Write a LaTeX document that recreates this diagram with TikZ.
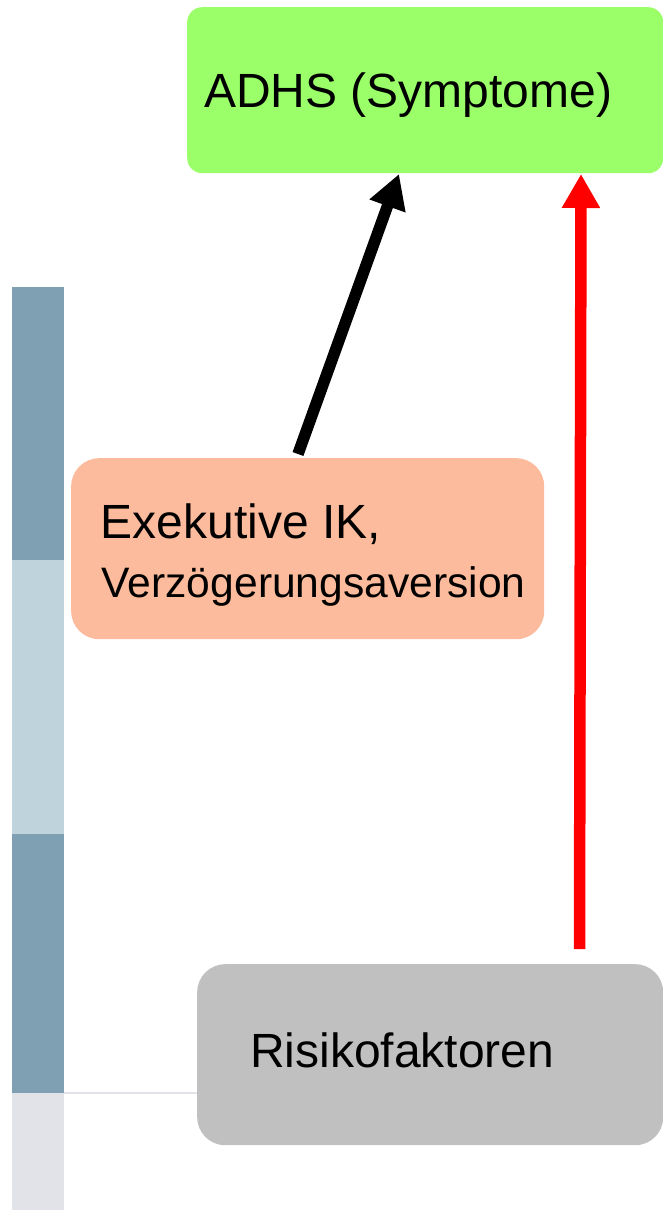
\documentclass[tikz,border=0pt]{standalone}
\usepackage{fontspec}
\setmainfont{Liberation Sans}
\usetikzlibrary{arrows.meta}

\definecolor{adhsgreen}{HTML}{9BFF69}
\definecolor{exekorange}{HTML}{FBBB9C}
\definecolor{riskgray}{HTML}{C0C0C0}
\definecolor{bardark}{HTML}{7F9FB2}
\definecolor{barlight}{HTML}{BFD3DC}
\definecolor{barpale}{HTML}{E2E3E9}
\definecolor{arrowred}{HTML}{FF0000}

\begin{document}
\begin{tikzpicture}[x=1pt, y=-1pt,
  box/.style={draw=none, inner sep=0pt, anchor=north west},
  lbl/.style={inner sep=0pt, anchor=base west, text=black},
  big/.style={font=\fontsize{48}{57}\selectfont},
  small/.style={font=\fontsize{42.6}{51}\selectfont},
  conn/.style={line width=11.5pt, -{Triangle[width=36pt,length=34pt]}},
]
\useasboundingbox (0,0) rectangle (663,1210);

% side band
\fill[bardark]  (12,287)  rectangle (64,560);
\fill[barlight] (12,560)  rectangle (64,834);
\fill[bardark]  (12,834)  rectangle (64,1093);
\fill[barpale]  (12,1093) rectangle (64,1210);
\draw[barpale, line width=1.2pt] (64,1093) -- (198,1093);

% boxes
\node[box, fill=adhsgreen, rounded corners=15pt,
      minimum width=476pt, minimum height=166pt] (adhs) at (187,7) {};
\node[box, fill=exekorange, rounded corners=28pt,
      minimum width=473pt, minimum height=181pt] (exek) at (71,458) {};
\node[box, fill=riskgray, rounded corners=28pt,
      minimum width=466pt, minimum height=181pt] (risk) at (197,964) {};

% labels
\node[lbl, big]   (adhstext)  at (204,107)  {ADHS (Symptome)};
\node[lbl, big]   (exektext)  at (100.5,538) {Exekutive IK,};
\node[lbl, small] (verztext)  at (101.5,597) {Verzögerungsaversion};
\node[lbl, big]   (risktext)  at (250,1067) {Risikofaktoren};

% connector ends
\coordinate (exekout) at (298,454);
\coordinate (adhsinA) at (399,174);
\coordinate (riskout) at (579.5,949);
\coordinate (adhsinB) at (581,174);

% connectors
\draw[conn, black]    (exekout) -- (adhsinA);
\draw[conn, arrowred] (riskout) -- (adhsinB);
\end{tikzpicture}
\end{document}
